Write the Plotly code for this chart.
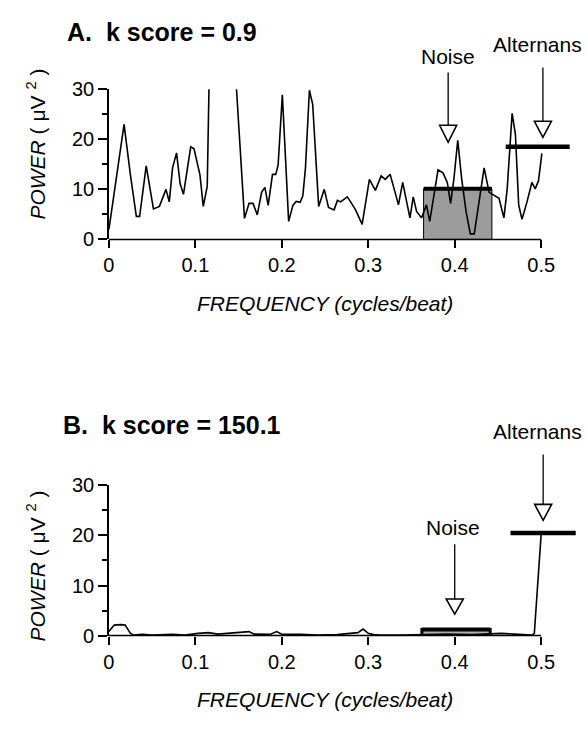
import plotly.graph_objects as go

W, H = 587, 731

# ---------------- data ----------------
freq_a = [0.000, 0.0088, 0.0175, 0.0250, 0.0317, 0.0355, 0.0431, 0.0515, 0.0584, 0.0660,
          0.0698, 0.0736, 0.0782, 0.0824, 0.0862, 0.0946, 0.0984, 0.1053, 0.1091, 0.1137,
          0.1180, 0.1260, 0.1350, 0.1440, 0.1568, 0.1621, 0.1667, 0.1716, 0.1766, 0.1804,
          0.1842, 0.1892, 0.1930, 0.1957, 0.2006, 0.2079, 0.2128, 0.2166, 0.2212, 0.2243,
          0.2273, 0.2319, 0.2357, 0.2426, 0.2491, 0.2540, 0.2605, 0.2643, 0.2681, 0.2757,
          0.2796, 0.2853, 0.2929, 0.3013, 0.3082, 0.3149, 0.3196, 0.3253, 0.3310, 0.3349,
          0.3398, 0.3444, 0.3482, 0.3520, 0.3559, 0.3616, 0.3673, 0.3711, 0.3750, 0.3807,
          0.3864, 0.3914, 0.3952, 0.3990, 0.4035, 0.4081, 0.4131, 0.4180, 0.4226, 0.4283,
          0.4340, 0.4398, 0.4455, 0.4512, 0.4569, 0.4607, 0.4664, 0.4702, 0.4740, 0.4778,
          0.4836, 0.4893, 0.4931, 0.4969, 0.5008]
power_a = [2.0, 12.7, 23.0, 12.7, 4.6, 4.6, 14.7, 6.1, 6.6, 10.0,
           7.5, 14.3, 17.3, 11.1, 9.0, 18.5, 18.1, 12.9, 6.6, 10.6,
           52, 60, 50, 40, 4.2, 7.2, 7.2, 4.9, 9.4, 10.4,
           6.8, 13.0, 13.0, 14.9, 28.9, 3.6, 6.8, 7.6, 7.4, 8.7,
           14.2, 29.8, 27.0, 6.6, 10.0, 6.4, 5.9, 7.8, 7.5, 8.5,
           7.5, 5.9, 3.0, 12.0, 9.8, 12.7, 12.0, 13.0, 9.4, 6.9,
           11.4, 7.2, 4.3, 8.5, 5.6, 4.3, 6.9, 3.6, 7.8, 13.9,
           13.3, 11.4, 7.2, 12.0, 19.8, 12.0, 5.6, 1.1, 1.1, 7.5,
           14.3, 9.4, 8.8, 8.2, 4.3, 10.1, 25.2, 21.0, 6.9, 4.0,
           7.5, 11.4, 10.1, 11.7, 17.2]

freq_b = [0.000, 0.0061, 0.0137, 0.0187, 0.0250, 0.0290, 0.0385, 0.0500, 0.0730, 0.0880,
          0.1030, 0.1150, 0.1260, 0.1380, 0.1530, 0.1620, 0.1680, 0.1870, 0.1940, 0.2000,
          0.2220, 0.2410, 0.2640, 0.2790, 0.2880, 0.2940, 0.3000, 0.3060, 0.3130, 0.3400,
          0.3630, 0.3900, 0.4200, 0.4390, 0.4540, 0.4690, 0.4890, 0.4921, 0.5000]
power_b = [0.8, 2.1, 2.2, 2.1, 0.45, 0.1, 0.26, 0.1, 0.26, 0.1,
           0.45, 0.6, 0.3, 0.5, 0.65, 0.8, 0.3, 0.26, 0.8, 0.26,
           0.26, 0.1, 0.2, 0.45, 0.6, 1.3, 0.45, 0.2, 0.1, 0.1,
           0.2, 0.3, 0.2, 0.26, 0.45, 0.3, 0.1, 0.45, 20.3]

# noise band / alternans bar: [start, end], level
noise_band_a = [0.364, 0.443]
noise_level_a = 10.1
alt_band_a = [0.459, 0.533]
alt_level_a = 18.5

noise_band_b = [0.362, 0.441]
noise_level_b = 1.2
alt_band_b = [0.4645, 0.540]
alt_level_b = 20.5

x_ticks = [0, 0.1, 0.2, 0.3, 0.4, 0.5]
x_ticktext = ["0", "0.1", "0.2", "0.3", "0.4", "0.5"]
y_ticks = [0, 10, 20, 30]
y_minor = [5, 15, 25]

titles = ["A.\u00a0 k score = 0.9", "B.\u00a0 k score = 150.1"]
x_title = "<i>FREQUENCY (cycles/beat)</i>"
y_title = "<i>POWER</i> ( \u03bcV <sup>2</sup> )"

# ---------------- layout geometry (pixels) ----------------
FONT = "Liberation Sans, Arial, Helvetica, sans-serif"
x0_px, xr_px = 104, 580          # x-domain in pixels
panels = [dict(top=80.7, bottom=235.5), dict(top=489.0, bottom=644.0)]
YMAX = 30.0

def px2px(x):
    return x / W

def py2py(y):
    return 1 - y / H

def data_to_py(panel, v):
    p = panels[panel]
    return p["bottom"] - v * (p["bottom"] - p["top"]) / YMAX

fig = go.Figure()

layout_axes = {}
for i, p in enumerate(panels):
    xa = "xaxis" if i == 0 else "xaxis2"
    ya = "yaxis" if i == 0 else "yaxis2"
    layout_axes[xa] = dict(
        domain=[px2px(x0_px), px2px(xr_px)], range=[0, 0.545],
        anchor="y" if i == 0 else "y2",
        tickvals=x_ticks, ticktext=x_ticktext, ticks="outside", ticklen=8, tickwidth=1.5,
        tickcolor="black", showline=False, showgrid=False, zeroline=False,
        tickfont=dict(family=FONT, size=20, color="black"),
    )
    layout_axes[ya] = dict(
        domain=[py2py(p["bottom"]), py2py(p["top"])], range=[0, YMAX],
        anchor="x" if i == 0 else "x2",
        tickvals=y_ticks, ticks="outside", ticklen=9, tickwidth=1.5, tickcolor="black",
        minor=dict(tickvals=y_minor, ticks="outside", ticklen=5, tickwidth=1.5, tickcolor="black"),
        showline=True, linewidth=1.5, linecolor="black", showgrid=False, zeroline=False,
        tickfont=dict(family=FONT, size=20, color="black"),
    )

def add_panel(idx, freq, power, nband, nlevel, aband, alevel, noise_fill, noise_lw):
    xr = "x" if idx == 0 else "x2"
    yr = "y" if idx == 0 else "y2"
    # noise box
    fig.add_trace(go.Scatter(
        x=[nband[0], nband[0], nband[1], nband[1], nband[0]],
        y=[0, nlevel, nlevel, 0, 0], mode="lines", fill="toself",
        fillcolor=noise_fill, line=dict(color="black", width=noise_lw),
        xaxis=xr, yaxis=yr, hoverinfo="skip", showlegend=False))
    # spectrum
    fig.add_trace(go.Scatter(
        x=freq, y=power, mode="lines", line=dict(color="black", width=1.6),
        xaxis=xr, yaxis=yr, showlegend=False))
    # noise level bar
    fig.add_trace(go.Scatter(
        x=nband, y=[nlevel, nlevel], mode="lines", line=dict(color="black", width=4),
        xaxis=xr, yaxis=yr, showlegend=False))
    # alternans bar
    fig.add_trace(go.Scatter(
        x=aband, y=[alevel, alevel], mode="lines", line=dict(color="black", width=4.5),
        xaxis=xr, yaxis=yr, showlegend=False))

add_panel(0, freq_a, power_a, noise_band_a, noise_level_a, alt_band_a, alt_level_a, "#9c9c9c", 1)
add_panel(1, freq_b, power_b, noise_band_b, noise_level_b, alt_band_b, alt_level_b, "#b0b0b0", 3)

shapes = []
annotations = []

# x-axis lines from 0 to 0.5
for i, p in enumerate(panels):
    shapes.append(dict(type="line", xref="x" if i == 0 else "x2", yref="paper",
                       x0=x_ticks[0], x1=x_ticks[-1], y0=py2py(p["bottom"]), y1=py2py(p["bottom"]),
                       line=dict(color="black", width=1.5)))

# arrows: (panel, x data, tip y data, head height px, shaft length px, label, label center px)
arrows = [
    (0, 0.3924, 19.4, 17, 55, "Noise", (447, 47)),
    (0, 0.502, 20.4, 16, 56, "Alternans", (537, 35)),
    (1, 0.400, 4.3, 15, 57, "Noise", (452, 533)),
    (1, 0.5023, 23.0, 16, 52, "Alternans", (537, 434)),
]
for (pi, ax_x, tip_y, hh, shaft, label, (lx, ly)) in arrows:
    xr = "x" if pi == 0 else "x2"
    yr = "y" if pi == 0 else "y2"
    hw = 8.5
    shapes.append(dict(type="path", xref=xr, yref=yr, xsizemode="pixel", ysizemode="pixel",
                       xanchor=ax_x, yanchor=tip_y,
                       path=f"M {-hw} {hh} L {hw} {hh} L 0 0 Z",
                       line=dict(color="black", width=1.6), fillcolor="white"))
    head_top_px = data_to_py(pi, tip_y) - hh
    shapes.append(dict(type="line", xref=xr, yref="paper",
                       x0=ax_x, x1=ax_x, y0=py2py(head_top_px), y1=py2py(head_top_px - shaft),
                       line=dict(color="black", width=1.3)))
    annotations.append(dict(text=label, x=px2px(lx), y=py2py(ly), xref="paper", yref="paper",
                            showarrow=False, xanchor="center", yanchor="middle",
                            font=dict(family=FONT, size=21, color="black")))

# panel titles
for t, (lx, ly) in zip(titles, [(60, 22), (56, 427)]):
    annotations.append(dict(text=f"<b>{t}</b>", x=px2px(lx), y=py2py(ly), xref="paper", yref="paper",
                            showarrow=False, xanchor="left", yanchor="middle",
                            font=dict(family=FONT, size=25, color="black")))

# axis titles
for (cx, cy) in [(322, 302), (322, 710)]:
    annotations.append(dict(text=x_title, x=px2px(cx), y=py2py(cy), xref="paper", yref="paper",
                            showarrow=False, xanchor="center", yanchor="middle",
                            font=dict(family=FONT, size=21, color="black")))
for (cx, cy) in [(30, 137), (30, 572)]:
    annotations.append(dict(text=y_title, x=px2px(cx), y=py2py(cy), xref="paper", yref="paper",
                            showarrow=False, xanchor="center", yanchor="middle", textangle=-90,
                            font=dict(family=FONT, size=21, color="black")))

fig.update_layout(
    width=W, height=H, autosize=False,
    margin=dict(l=0, r=0, t=0, b=0),
    paper_bgcolor="white", plot_bgcolor="white",
    shapes=shapes, annotations=annotations, showlegend=False,
    **layout_axes,
)

fig.write_html("out.html", config={"displayModeBar": False})
